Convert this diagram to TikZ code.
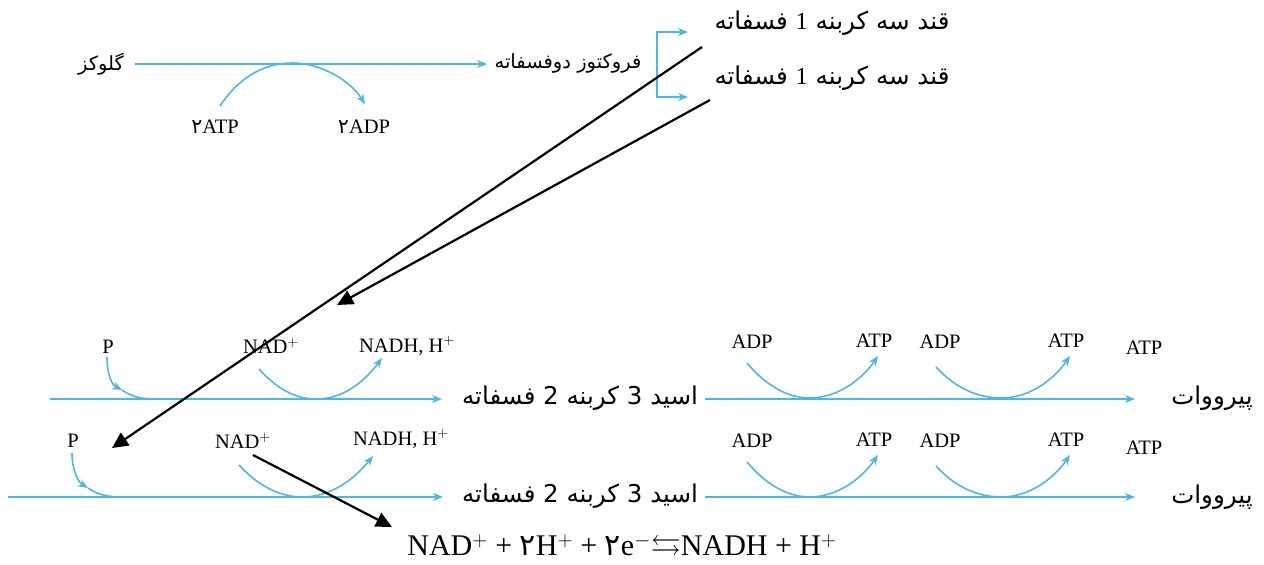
\documentclass[tikz,border=0pt]{standalone}
\usepackage{amssymb}
\usepackage{fontspec}
\setmainfont{Liberation Serif}
\newfontfamily\arabicfont[Script=Arabic]{DejaVu Sans}
\TeXXeTstate=1
\usetikzlibrary{arrows.meta,calc}
\definecolor{cflow}{HTML}{4DB7E3}
\tikzset{
  fl/.style={-{Stealth[length=10pt,width=8pt]}, draw=cflow, line width=1.6pt},
  flc/.style={draw=cflow, line width=1.6pt},
  flb/.style={{Stealth[length=10pt,width=8pt]}-{Stealth[length=10pt,width=8pt]}, draw=cflow, line width=1.6pt},
  kfl/.style={-{Triangle[length=16pt,width=15pt]}, draw=black, line width=2.2pt},
  lbl/.style={font=\fontsize{20.5}{23}\selectfont, inner sep=1pt},
  fa/.style={font=\fontsize{24.5}{28}\selectfont\arabicfont, inner sep=2pt},
  fas/.style={font=\fontsize{19.5}{22}\selectfont\arabicfont, inner sep=2pt},
  eqn/.style={font=\fontsize{30}{34}\selectfont, inner sep=1pt}
}

\begin{document}
\begin{tikzpicture}[x=1pt,y=1pt]
\useasboundingbox (0,0) rectangle (1264,-565);

% top: glucose to fructose bisphosphate
\node[fas] (glu) at (101,-64) {\beginR گلوکز\endR};
\node[fas] (fbp) at (568,-63) {\beginR فروکتوز دوفسفاته\endR};
\node[lbl] (atp0) at (215,-127) {{\arabicfont ۲}ATP};
\node[lbl] (adp0) at (364,-127) {{\arabicfont ۲}ADP};
\node[fa] (gap1) at (832,-23) {\beginR قند سه کربنه {\rmfamily 1} فسفاته\endR};
\node[fa] (gap2) at (832,-78) {\beginR قند سه کربنه {\rmfamily 1} فسفاته\endR};

\coordinate (t0) at (135,-64);
\coordinate (t1) at (487,-64);
\coordinate (pk0) at (293,-63);
\coordinate (c0a) at (220,-106);
\coordinate (c0b) at (365,-104);
\draw[fl] (t0) -- (t1);
\draw[fl] (c0a) .. controls (240,-76) and (265,-63) .. (pk0)
  .. controls (320,-63) and (350,-80) .. (c0b);

\coordinate (brt) at (688,-32);
\coordinate (brb) at (688,-97);
\draw[flb] (brt) -- (657,-32) -- (657,-97) -- (brb);

% row A
\node[lbl] (pA) at (108,-347) {P};
\node[lbl] (nadA) at (271,-346) {NAD$^{+}$};
\node[lbl] (nadhA) at (407,-346) {NADH, H$^{+}$};
\node[fa] (acidA) at (580,-398) {\beginR اسید 3 کربنه 2 فسفاته\endR};
\node[fa] (pyrA) at (1212,-398) {\beginR پیرووات\endR};
\node[lbl] (adpA1) at (752,-342) {ADP};
\node[lbl] (atpA1) at (874,-341) {ATP};
\node[lbl] (adpA2) at (940,-342) {ADP};
\node[lbl] (atpA2) at (1066,-341) {ATP};
\node[lbl] (atpA3) at (1144,-348) {ATP};

\coordinate (a0) at (50,-399);
\coordinate (a1) at (442,-399);
\coordinate (a2) at (705,-399);
\coordinate (a3) at (1135,-399);
\draw[fl] (a0) -- (a1);
\draw[fl] (a2) -- (a3);
\draw[fl] (107,-357) .. controls (107,-375) and (112,-385) .. (122,-390);
\draw[flc] (122,-390) .. controls (132,-397) and (142,-399) .. (155,-399);
\draw[fl] (259,-369) .. controls (280,-392) and (298,-399) .. (317,-399)
  .. controls (340,-399) and (362,-385) .. (382,-358);
\draw[fl] (747,-363) .. controls (768,-388) and (790,-398) .. (810,-398)
  .. controls (835,-398) and (860,-382) .. (878,-356);
\draw[fl] (936,-367) .. controls (957,-390) and (980,-398) .. (1002,-398)
  .. controls (1027,-398) and (1052,-382) .. (1070,-356);

% row B
\node[lbl] (pB) at (73,-441) {P};
\node[lbl] (nadB) at (243,-441) {NAD$^{+}$};
\node[lbl] (nadhB) at (401,-439) {NADH, H$^{+}$};
\node[fa] (acidB) at (580,-496) {\beginR اسید 3 کربنه 2 فسفاته\endR};
\node[fa] (pyrB) at (1212,-497) {\beginR پیرووات\endR};
\node[lbl] (adpB1) at (752,-441) {ADP};
\node[lbl] (atpB1) at (874,-440) {ATP};
\node[lbl] (adpB2) at (940,-441) {ADP};
\node[lbl] (atpB2) at (1066,-440) {ATP};
\node[lbl] (atpB3) at (1144,-448) {ATP};

\coordinate (b0) at (8,-497);
\coordinate (b1) at (443,-497);
\coordinate (b2) at (705,-497);
\coordinate (b3) at (1135,-497);
\draw[fl] (b0) -- (b1);
\draw[fl] (b2) -- (b3);
\draw[fl] (72,-453) .. controls (72,-470) and (78,-482) .. (88,-488);
\draw[flc] (88,-488) .. controls (98,-495) and (108,-497) .. (123,-497);
\draw[fl] (239,-465) .. controls (260,-488) and (282,-497) .. (303,-497)
  .. controls (328,-497) and (352,-482) .. (373,-456);
\draw[fl] (747,-462) .. controls (768,-487) and (790,-497) .. (810,-497)
  .. controls (835,-497) and (860,-481) .. (878,-455);
\draw[fl] (936,-466) .. controls (957,-489) and (980,-497) .. (1002,-497)
  .. controls (1027,-497) and (1052,-481) .. (1070,-455);

% equation
\node[eqn] (eq) at (622,-548)
  {NAD$^{+}$ + {\arabicfont ۲}H$^{+}$ + {\arabicfont ۲}e$^{-}$\mbox{$\leftrightarrows$}NADH + H$^{+}$};

% black pointers
\coordinate (k1a) at (702,-47);
\coordinate (k1b) at (112,-448);
\coordinate (k2a) at (710,-100);
\coordinate (k2b) at (337,-305);
\coordinate (k3a) at (253,-455);
\coordinate (k3b) at (392,-527);
\draw[kfl] (k1a) -- (k1b);
\draw[kfl] (k2a) -- (k2b);
\draw[kfl] (k3a) -- (k3b);

\end{tikzpicture}
\end{document}
